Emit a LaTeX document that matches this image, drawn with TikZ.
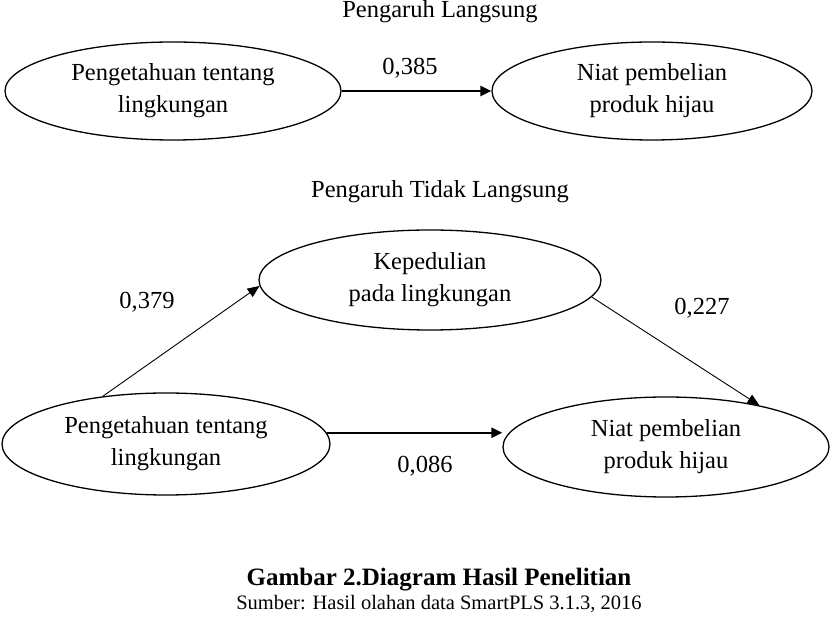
\documentclass[tikz,border=0pt]{standalone}
\usepackage{fontspec}
\setmainfont{Liberation Serif}
\usetikzlibrary{shapes.geometric,arrows.meta}
\begin{document}
\begin{tikzpicture}[x=1pt,y=-1pt,
  ell/.style={draw,ellipse,line width=1.3pt,inner sep=0pt,align=center,
    font=\fontsize{24.5}{32}\selectfont},
  lbl/.style={font=\fontsize{24.5}{29}\selectfont,inner sep=0pt},
  thickarr/.style={line width=2.2pt,-{Triangle[length=11pt,width=10pt]}},
  thinarr/.style={line width=0.9pt,-{Triangle[length=12pt,width=10pt]}}]
\useasboundingbox (0,0) rectangle (831,617);
\node[lbl] (t1) at (440,12) {Pengaruh Langsung};
\node[ell,minimum width=336pt,minimum height=98pt] (pl1) at (173,91) {Pengetahuan tentang\\lingkungan};
\node[ell,minimum width=320pt,minimum height=98pt] (nr1) at (652,91) {Niat pembelian\\produk hijau};
\draw[thickarr] (pl1.east) -- (nr1.west);
\node[lbl] (v1) at (410,68) {0,385};

\node[lbl] (t2) at (440,192) {Pengaruh Tidak Langsung};
\node[ell,minimum width=342pt,minimum height=100pt] (kep) at (430,280) {Kepedulian\\pada lingkungan};
\node[ell,minimum width=328pt,minimum height=102pt] (pl2) at (166,444) {Pengetahuan tentang\\lingkungan};
\node[ell,minimum width=326pt,minimum height=100pt] (nr2) at (666,447) {Niat pembelian\\produk hijau};
\draw[thinarr] (pl2.143) -- (kep.182);
\draw[thinarr] (kep.-6) -- (nr2.24);
\draw[thickarr] (pl2.4) -- (pl2.4 -| nr2.west);
\node[lbl] (v2) at (147,302) {0,379};
\node[lbl] (v3) at (702,308) {0,227};
\node[lbl] (v4) at (425,466) {0,086};

\node[font=\fontsize{25}{29}\selectfont\bfseries,inner sep=0pt] (cap) at (439,580) {Gambar 2.Diagram Hasil Penelitian};
\node[font=\fontsize{20.5}{24}\selectfont,inner sep=0pt] (src) at (439,604) {Sumber: Hasil olahan data SmartPLS 3.1.3, 2016};
\end{tikzpicture}
\end{document}
